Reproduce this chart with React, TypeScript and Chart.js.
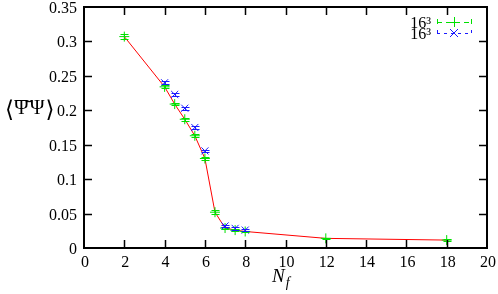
import React, { useEffect, useRef } from "react";
import { Chart, registerables } from "chart.js";

Chart.register(...registerables);

const greenX = [2, 4, 4.5, 5, 5.5, 6, 6.5, 7, 7.5, 8, 12, 18];
const greenY = [0.307, 0.234, 0.209, 0.187, 0.163, 0.130, 0.052, 0.029, 0.026, 0.024, 0.014, 0.0115];
const greenErr = [0.004, 0.002, 0.002, 0.002, 0.002, 0.002, 0.003, 0.002, 0.002, 0.001, 0.001, 0.001];

const blueX = [4, 4.5, 5, 5.5, 6, 7, 7.5, 8];
const blueY = [0.240, 0.223, 0.203, 0.175, 0.141, 0.032, 0.0285, 0.026];
const blueErr = [0.002, 0.002, 0.002, 0.002, 0.002, 0.002, 0.002, 0.002];

const lineX = greenX;
const lineY = greenY;

const xTickValues = [0, 2, 4, 6, 8, 10, 12, 14, 16, 18, 20];
const xTickLabels = ["0", "2", "4", "6", "8", "10", "12", "14", "16", "18", "20"];
const yTickValues = [0, 0.05, 0.1, 0.15, 0.2, 0.25, 0.3, 0.35];
const yTickLabels = ["0", "0.05", "0.1", "0.15", "0.2", "0.25", "0.3", "0.35"];

const legendLabels = ["16³", "16³"];
const xTitle = "N";
const xTitleSub = "f";
const yTitleParts = ["⟨", "Ψ̄", "Ψ", "⟩"];

const GREEN = "#00e000";
const BLUE = "#1a1aff";
const RED = "#ff0000";
const SERIF = '"Liberation Serif", "DejaVu Serif", serif';

Chart.defaults.font.family = SERIF;

const errPlugin = {
  id: "errbars",
  afterDatasetsDraw(chart: any) {
    const ctx = chart.ctx;
    const xs = chart.scales.x;
    const ys = chart.scales.y;
    const sets = [
      { x: greenX, y: greenY, e: greenErr, c: GREEN },
      { x: blueX, y: blueY, e: blueErr, c: BLUE },
    ];
    ctx.save();
    ctx.lineWidth = 1;
    for (const s of sets) {
      ctx.strokeStyle = s.c;
      for (let i = 0; i < s.x.length; i++) {
        const px = Math.round(xs.getPixelForValue(s.x[i])) + 0.5;
        const p1 = Math.round(ys.getPixelForValue(s.y[i] - s.e[i])) + 0.5;
        const p2 = Math.round(ys.getPixelForValue(s.y[i] + s.e[i])) + 0.5;
        ctx.beginPath();
        ctx.moveTo(px, p1);
        ctx.lineTo(px, p2);
        ctx.moveTo(px - 4, p1);
        ctx.lineTo(px + 4, p1);
        ctx.moveTo(px - 4, p2);
        ctx.lineTo(px + 4, p2);
        ctx.stroke();
      }
    }
    ctx.restore();
  },
};

const framePlugin = {
  id: "frame",
  afterDraw(chart: any) {
    const ctx = chart.ctx;
    const a = chart.chartArea;
    const xs = chart.scales.x;
    const ys = chart.scales.y;
    const tl = 8;
    ctx.save();
    ctx.strokeStyle = "#000";
    ctx.lineWidth = 1.5;
    ctx.beginPath();
    for (const v of xTickValues) {
      const px = Math.round(xs.getPixelForValue(v)) + 0.5;
      if (v === xTickValues[0] || v === xTickValues[xTickValues.length - 1]) continue;
      ctx.moveTo(px, a.bottom);
      ctx.lineTo(px, a.bottom - tl);
      ctx.moveTo(px, a.top);
      ctx.lineTo(px, a.top + tl);
    }
    for (const v of yTickValues) {
      const py = Math.round(ys.getPixelForValue(v)) + 0.5;
      if (v === yTickValues[0] || v === yTickValues[yTickValues.length - 1]) continue;
      ctx.moveTo(a.left, py);
      ctx.lineTo(a.left + tl, py);
      ctx.moveTo(a.right, py);
      ctx.lineTo(a.right - tl, py);
    }
    ctx.stroke();
    ctx.lineWidth = 2;
    ctx.strokeRect(a.left, a.top, a.right - a.left, a.bottom - a.top);

    // tick labels
    ctx.fillStyle = "#000";
    ctx.font = "16px " + SERIF;
    ctx.textBaseline = "alphabetic";
    ctx.textAlign = "center";
    xTickValues.forEach((v, i) => {
      ctx.fillText(xTickLabels[i], xs.getPixelForValue(v) + 1, a.bottom + 19);
    });
    ctx.textAlign = "right";
    yTickValues.forEach((v, i) => {
      ctx.fillText(yTickLabels[i], a.left - 7, ys.getPixelForValue(v) + 6);
    });

    // legend
    const rows = [
      { label: legendLabels[0], c: GREEN, style: "plus", dash: [5, 4], y: 22 },
      { label: legendLabels[1], c: BLUE, style: "x", dash: [3, 4], y: 33 },
    ];
    for (const r of rows) {
      ctx.fillStyle = "#000";
      ctx.font = "16px " + SERIF;
      ctx.textAlign = "right";
      ctx.textBaseline = "alphabetic";
      ctx.fillText(r.label, 431, r.y + 6);
      const x0 = 437, x1 = 472, xm = 454;
      ctx.strokeStyle = r.c;
      ctx.lineWidth = 1;
      ctx.setLineDash(r.dash);
      ctx.beginPath();
      ctx.moveTo(x0, r.y + 0.5);
      ctx.lineTo(x1, r.y + 0.5);
      ctx.moveTo(x0 + 0.5, r.y - 3);
      ctx.lineTo(x0 + 0.5, r.y + 4);
      ctx.moveTo(x1 - 0.5, r.y - 3);
      ctx.lineTo(x1 - 0.5, r.y + 4);
      ctx.stroke();
      ctx.setLineDash([]);
      ctx.beginPath();
      if (r.style === "plus") {
        ctx.moveTo(xm - 5, r.y + 0.5);
        ctx.lineTo(xm + 5, r.y + 0.5);
        ctx.moveTo(xm + 0.5, r.y - 5);
        ctx.lineTo(xm + 0.5, r.y + 5);
      } else {
        ctx.moveTo(xm - 4, r.y - 4);
        ctx.lineTo(xm + 4, r.y + 4);
        ctx.moveTo(xm + 4, r.y - 4);
        ctx.lineTo(xm - 4, r.y + 4);
      }
      ctx.stroke();
    }

    // x title
    ctx.fillStyle = "#000";
    ctx.textAlign = "left";
    ctx.textBaseline = "alphabetic";
    ctx.font = "italic 19px " + SERIF;
    const nx = 272;
    ctx.fillText(xTitle, nx, 282);
    const nw = ctx.measureText(xTitle).width;
    ctx.font = "italic 14px " + SERIF;
    ctx.fillText(xTitleSub, nx + nw + 1, 287);

    // y title
    ctx.textAlign = "left";
    ctx.textBaseline = "alphabetic";
    ctx.strokeStyle = "#000";
    let tx = 5;
    const base = 114;
    yTitleParts.forEach((p, i) => {
      const isBracket = i === 0 || i === yTitleParts.length - 1;
      ctx.font = (isBracket ? "23px " : "20px ") + SERIF;
      ctx.fillText(p, tx, isBracket ? base + 3 : base);
      const w = ctx.measureText(p).width;
      if (i === 1) {
        ctx.lineWidth = 1;
        ctx.beginPath();
        ctx.moveTo(tx + 2, 100.5);
        ctx.lineTo(tx + w - 2, 100.5);
        ctx.stroke();
      }
      tx += w + (isBracket ? 0 : 1);
    });
    ctx.restore();
  },
};

export default function App() {
  const ref = useRef<HTMLCanvasElement | null>(null);
  useEffect(() => {
    if (!ref.current) return;
    const chart = new Chart(ref.current, {
      type: "scatter",
      data: {
        datasets: [
          {
            data: lineX.map((x, i) => ({ x, y: lineY[i] })),
            showLine: true,
            borderColor: RED,
            borderWidth: 1,
            pointRadius: 0,
            order: 3,
          },
          {
            data: greenX.map((x, i) => ({ x, y: greenY[i] })),
            showLine: false,
            pointStyle: "cross",
            pointRadius: 5,
            borderColor: GREEN,
            backgroundColor: GREEN,
            pointBorderWidth: 1,
            order: 2,
          },
          {
            data: blueX.map((x, i) => ({ x, y: blueY[i] })),
            showLine: false,
            pointStyle: "crossRot",
            pointRadius: 5,
            borderColor: BLUE,
            backgroundColor: BLUE,
            pointBorderWidth: 1,
            order: 1,
          },
        ],
      },
      options: {
        responsive: false,
        animation: false,
        devicePixelRatio: 1,
        layout: { padding: { top: 7, right: 11, left: 0, bottom: 0 } },
        plugins: { legend: { display: false }, tooltip: { enabled: false } },
        scales: {
          x: {
            type: "linear",
            min: 0,
            max: 20,
            grid: { display: false, drawTicks: false },
            border: { display: false },
            afterBuildTicks: (s: any) => {
              s.ticks = xTickValues.map((v) => ({ value: v }));
            },
            afterFit: (s: any) => {
              s.height = 46;
              s.paddingLeft = 0;
              s.paddingRight = 0;
            },
            ticks: {
              display: false,
              callback: (_v: any, i: number) => xTickLabels[i],
            },
          },
          y: {
            type: "linear",
            min: 0,
            max: 0.35,
            grid: { display: false, drawTicks: false },
            border: { display: false },
            afterBuildTicks: (s: any) => {
              s.ticks = yTickValues.map((v) => ({ value: v }));
            },
            afterFit: (s: any) => {
              s.width = 84;
              s.paddingTop = 0;
              s.paddingBottom = 0;
            },
            ticks: {
              display: false,
              callback: (_v: any, i: number) => yTickLabels[i],
            },
          },
        },
      },
      plugins: [errPlugin, framePlugin],
    });
    return () => chart.destroy();
  }, []);
  return (
    <div style={{ position: "absolute", left: 0, top: 0, width: 498, height: 294 }}>
      <canvas ref={ref} width={498} height={294} />
    </div>
  );
}
